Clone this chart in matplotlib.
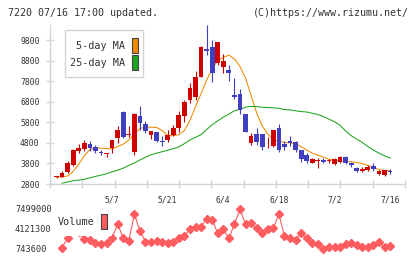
import numpy as np
import matplotlib
matplotlib.use("Agg")
import matplotlib.pyplot as plt
import matplotlib.transforms as mtransforms
from matplotlib.patches import Rectangle

# daily prices (7220)
opens = [3120, 3130, 3380, 3720, 4400, 4490, 4745, 4590, 4380, 4240,
         4570, 5020, 6310, 5170, 4380, 6100, 5710, 5180, 5320, 4880,
         4940, 5180, 5540, 6110, 6880, 7050, 8020, 9350, 9480, 8660,
         8510, 8340, 7130, 7180, 6200, 4810, 5230, 5230, 4770, 4650,
         5500, 4745, 4900, 4860, 4430, 4210, 3835, 3920, 3960, 3910,
         3770, 3890, 4130, 3835, 3600, 3410, 3480, 3670, 3290, 3240, 3420]
highs = [3130, 3430, 3930, 4500, 4730, 4940, 4890, 4700, 4450, 4300,
         4960, 5620, 6330, 5620, 6250, 6590, 5860, 5400, 5350, 5110,
         5420, 5670, 6360, 6880, 7725, 8270, 9500, 10530, 9800, 9720,
         9120, 8580, 7940, 7400, 6220, 5300, 5500, 5240, 5070, 5430,
         5700, 4870, 5110, 4870, 4440, 4290, 4060, 4050, 4060, 4020,
         4060, 4150, 4160, 3890, 3650, 3650, 3720, 3810, 3460, 3500, 3520]
lows = [3110, 3120, 3330, 3680, 4290, 4400, 4400, 4330, 4210, 4130,
        4290, 4800, 5060, 5100, 4190, 5420, 5260, 4970, 4820, 4650,
        4820, 5110, 5350, 5830, 6760, 6880, 8000, 9070, 7780, 8600,
        8220, 7830, 6930, 6200, 5350, 4700, 4700, 4450, 4530, 4620,
        4380, 4450, 4650, 4380, 3880, 3840, 3800, 3600, 3800, 3800,
        3720, 3800, 3770, 3620, 3380, 3360, 3440, 3450, 3240, 3190, 3290]
closes = [3125, 3320, 3830, 4450, 4570, 4810, 4565, 4410, 4300, 4270,
          4940, 5430, 5090, 5200, 6200, 5750, 5390, 5370, 4910, 4860,
          5180, 5540, 6150, 6810, 7450, 7980, 9480, 9270, 8220, 9700,
          8800, 8180, 7010, 6400, 5350, 5130, 4860, 4620, 4790, 5420,
          4430, 4590, 4780, 4450, 4010, 3930, 4015, 3950, 3880, 3935,
          4000, 4095, 3835, 3720, 3430, 3510, 3640, 3510, 3410, 3480, 3400]
ma5 = [3125, 3140, 3190, 3410, 3770, 4170, 4480, 4550, 4540, 4520,
       4500, 4620, 4740, 4940, 5220, 5500, 5560, 5560, 5550, 5400,
       5150, 5150, 5200, 5400, 5900, 6550, 7200, 7850, 8400, 8800,
       8950, 9070, 8880, 8510, 7950, 7100, 6250, 5620, 5240, 4950,
       4880, 4820, 4800, 4750, 4620, 4450, 4300, 4200, 4110, 4000,
       3940, 3920, 3900, 3880, 3850, 3790, 3700, 3600, 3500, 3460, 3450]
ma25 = [np.nan, 2840, 2900, 2960, 2990, 3030, 3100, 3170, 3230, 3300,
        3390, 3470, 3570, 3700, 3820, 3970, 4100, 4220, 4300, 4370,
        4440, 4520, 4600, 4760, 4940, 5070, 5200, 5450, 5680, 5870,
        6050, 6200, 6360, 6430, 6540, 6570, 6560, 6530, 6520, 6500,
        6480, 6420, 6400, 6360, 6320, 6300, 6240, 6180, 6080, 5950,
        5830, 5650, 5380, 5150, 4980, 4820, 4620, 4450, 4300, 4170, 4060]
volume = [np.nan, 1010000, 2700000, 3800000, 3600000, 2430000, 2310000, 1760000, 1590000, 1760000,
          2700000, 4970000, 2700000, 2150000, 6700000, 3830000, 2030000, 2030000, 2150000, 2030000,
          1760000, 2030000, 2600000, 3040000, 4120000, 4560000, 4560000, 5860000, 5690000, 3440000,
          4170000, 2600000, 4970000, 7499000, 4970000, 5130000, 4290000, 3440000, 4170000, 4290000,
          6650000, 3040000, 2600000, 2310000, 3440000, 2600000, 1760000, 1590000, 743600, 1080000,
          1180000, 1180000, 1590000, 1760000, 1470000, 1080000, 1080000, 1470000, 1920000, 1080000, 1350000]
date_labels = ["5/7", "5/21", "6/4", "6/18", "7/2", "7/16"]
date_pos = [10, 20, 30, 40, 50, 60]
price_ticks = [2800, 3800, 4800, 5800, 6800, 7800, 8800, 9800]
vol_ticks = [743600, 4121300, 7499000]

W, H = 420, 259
FONT = "DejaVu Sans Mono"
GRID = "#d4d4d4"
UP, DOWN = "#cf0000", "#3f3fbf"
TXT = "#333333"

fig = plt.figure(figsize=(W / 100, H / 100), dpi=100)

def box(l, t, r, b):
    return [l / W, 1 - b / H, (r - l) / W, (b - t) / H]

def P(x, y):
    return x / W, 1 - y / H

ax = fig.add_axes(box(50, 25, 405, 184))
axv = fig.add_axes(box(50, 204, 405, 254), sharex=ax)

x = np.arange(len(closes))
o = np.array(opens); c = np.array(closes)
col = np.where(c >= o, UP, DOWN)

# moving averages
ax.plot(x, ma5, color="#f08a00", lw=0.75, zorder=2)
ax.plot(x, ma25, color="#1ca51c", lw=0.75, zorder=2)

# candles
ax.vlines(x, lows, highs, colors=col, lw=0.8, zorder=3)
body_h = np.maximum(np.abs(c - o), 45)
ax.bar(x, body_h, bottom=np.minimum(o, c), width=0.85, color=col, zorder=4)

xl = (-1.17, 62.68)
ax.set_xlim(*xl)
ax.set_ylim(2800, 10530)
for s in ["top", "right"]:
    ax.spines[s].set_visible(False)
for s in ["left", "bottom"]:
    ax.spines[s].set_color(GRID)
    ax.spines[s].set_linewidth(1)

ax.set_yticks(price_ticks)
ax.set_yticklabels([str(v) for v in price_ticks], family=FONT, fontsize=5.8, color=TXT)
ax.tick_params(axis="y", direction="inout", length=6, width=1, color=GRID, pad=4.5)

ax.set_xticks(date_pos)
ax.set_xticklabels(date_labels, family=FONT, fontsize=5.8, color=TXT)
ax.set_xticks(np.linspace(xl[0], xl[1], 12), minor=True)
ax.tick_params(axis="x", which="major", length=0, pad=8.5)
ax.tick_params(axis="x", which="minor", direction="inout", length=6, width=1, color=GRID)

# volume
axv.plot(x, volume, color="#ff5c60", lw=0.8, marker="D", ms=4, zorder=2)
axv.set_ylim(-50000, 8394000)
for s in axv.spines.values():
    s.set_visible(False)
axv.set_yticks([])
axv.tick_params(axis="x", which="both", length=0, labelbottom=False)
tr = mtransforms.blended_transform_factory(fig.transFigure, axv.transData)
for v in vol_ticks:
    axv.text(15 / W, v, str(v), transform=tr, ha="left", va="center",
             family=FONT, fontsize=6.2, color=TXT)

# price legend
fig.patches.append(Rectangle(P(65, 77), 78 / W, 47 / H, transform=fig.transFigure,
                             facecolor="white", edgecolor=GRID, lw=1))
fig.text(*P(125, 46), "5-day MA", ha="right", va="center", family=FONT, fontsize=7.3, color=TXT)
fig.text(*P(125, 63), "25-day MA", ha="right", va="center", family=FONT, fontsize=7.3, color=TXT)
fig.patches.append(Rectangle(P(131.5, 52.5), 6 / W, 15 / H, transform=fig.transFigure,
                             facecolor="#f08a00", edgecolor="#444444", lw=0.8))
fig.patches.append(Rectangle(P(131.5, 69.5), 6 / W, 15 / H, transform=fig.transFigure,
                             facecolor="#1ca51c", edgecolor="#444444", lw=0.8))

# volume legend
fig.patches.append(Rectangle(P(56, 236), 56 / W, 30 / H, transform=fig.transFigure,
                             facecolor="white", edgecolor="none"))
fig.text(*P(58, 222), "Volume", ha="left", va="center", family=FONT, fontsize=7.3, color=TXT)
fig.patches.append(Rectangle(P(101, 228.5), 6 / W, 15 / H, transform=fig.transFigure,
                             facecolor="#ff5c60", edgecolor="#444444", lw=0.8))

# header
fig.text(*P(8, 13), "7220 07/16 17:00 updated.", ha="left", va="center",
         family=FONT, fontsize=7.2, color=TXT)
fig.text(*P(409, 13), "(C)https://www.rizumu.net/", ha="right", va="center",
         family=FONT, fontsize=7.2, color=TXT)

fig.savefig("out.png", dpi=100)
